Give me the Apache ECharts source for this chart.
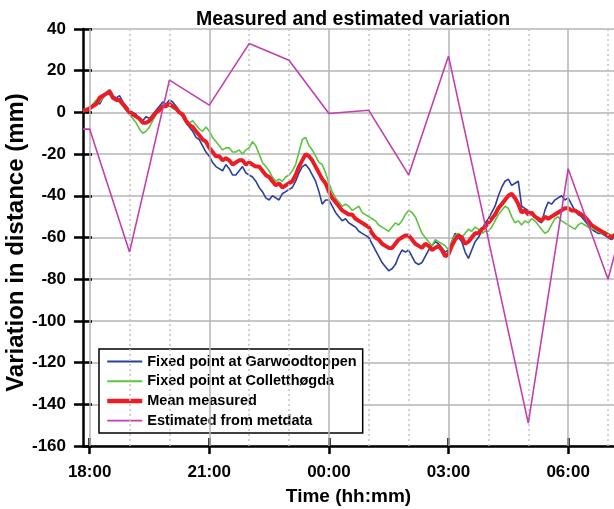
<!DOCTYPE html>
<html><head><meta charset="utf-8">
<script src="https://cdn.jsdelivr.net/npm/echarts@6/dist/echarts.min.js"></script>
<style>html,body{margin:0;padding:0;background:#fff}#c{width:614px;height:509px}</style>
</head><body><div id="c"></div>
<script>
// time samples: every 5 minutes starting 17:50 (hours past midnight of day 1; 24 = 00:00)
const startHour = 17 + 50 / 60;
const stepHour = 5 / 60;

const garwood = [0,1, 2,3, 5,4, 7,9, 11,8, 7,8, 5,3, 1,0, -1,-3, -4,-2, -3,-1, 1,3, 5,4, 6,5, 3,0, -2,-5, -7,-9, -12,-13, -16,-19, -21,-24, -26,-27, -28,-25, -27,-30, -30,-28, -26,-29, -30,-31, -33,-36, -38,-41, -42,-40, -41,-42, -39,-38, -37,-36, -33,-29, -26,-25, -27,-30, -33,-38, -44,-42, -42,-45, -48,-50, -52,-51, -53,-54, -55,-57, -58,-59, -60,-63, -66,-69, -72,-74, -76,-75, -73,-69, -66,-67, -66,-69, -72,-73, -72,-69, -66,-64, -62,-63, -65,-67, -66,-62, -58,-60, -62,-67, -70,-66, -62,-60, -57,-53, -51,-48, -45,-40, -36,-33, -32,-35, -34,-33, -45,-46, -47,-49, -50,-52, -53,-47, -43,-44, -42,-41, -40,-42, -41,-44, -47,-49, -50,-52, -54,-56, -57,-58, -58,-59, -60,-61, -60];

const collett = [1,2, 2,4, 6,5, 7,9, 11,8, 6,5, 3,1, -1,-3, -5,-8, -10,-9, -7,-4, -1,1, 2,4, 3,2, 1,0, -2,-4, -5,-4, -6,-8, -9,-7, -9,-12, -14,-16, -18,-17, -17,-19, -19,-18, -20,-18, -17,-14, -16,-20, -24,-26, -28,-31, -33,-32, -33,-31, -30,-28, -25,-19, -13,-12, -16,-18, -21,-24, -25,-29, -34,-38, -41,-43, -45,-44, -45,-47, -46,-45, -48,-49, -50,-51, -52,-54, -55,-56, -57,-55, -53,-54, -52,-49, -47,-48, -50,-54, -58,-60, -62,-64, -61,-62, -63,-64, -66,-62, -59,-58, -60,-58, -56,-57, -55,-56, -58,-57, -57,-55, -52,-49, -47,-45, -46,-50, -53,-52, -54,-52, -53,-51, -52,-54, -56,-58, -57,-54, -51,-50, -52,-53, -54,-55, -56,-54, -53,-54, -55,-56, -56,-57, -58,-57, -58,-59, -58];

const meanMeasured = [1,1, 2,3, 4,7, 8,9, 10,7, 6,6, 4,2, 0,-1, -2,-3, -5,-5, -4,-2, 0,1, 3,3, 4,3, 2,0, -1,-4, -6,-7, -9,-11, -13,-14, -17,-19, -21,-21, -23,-22, -23,-25, -24,-23, -23,-25, -24,-25, -26,-26, -28,-30, -31,-33, -35,-34, -36,-35, -34,-33, -30,-26, -23,-20, -21,-23, -26,-29, -32,-34, -38,-41, -43,-45, -47,-48, -49,-49, -51,-52, -53,-54, -55,-58, -60,-61, -63,-64, -65,-65, -63,-61, -60,-59, -59,-61, -63,-64, -65,-63, -64,-66, -65,-64, -66,-69, -68,-64, -61,-59, -60,-63, -62,-60, -58,-58, -56,-55, -53,-51, -49,-46, -44,-42, -40,-39, -41,-44, -48,-47, -49,-48, -50,-51, -52,-50, -51,-50, -49,-48, -47,-46, -46,-47, -47,-48, -49,-50, -52,-54, -55,-56, -57,-58, -59,-60, -59];

const metHours  = [17 + 50/60, 18, 19, 20, 21, 22, 23, 24, 25, 26, 27, 29, 30, 31, 32];
const metValues = [-8, -8, -67, 15.5, 3.5, 33, 25, -0.5, 1, -30, 27, -149, -27, -80, -8];

const labelHours = [18, 21, 24, 27, 30];
const hourLines = [18, 19, 20, 21, 22, 23, 24, 25, 26, 27, 28, 29, 30, 31];
const yMin = -160, yMax = 40, yStep = 20;
const xMin = 17 + 50/60, xMax = 31.15;

const legendNames = ['Fixed point at Garwoodtoppen', 'Fixed point at Colletthøgda', 'Mean measured', 'Estimated from metdata'];
const legendWidths = [2, 2, 4.5, 1.6];

function pairUp(vals) { return vals.map((v, i) => [startHour + i * stepHour, v]); }
function fmtHour(h) { const hh = ((Math.round(h) % 24) + 24) % 24; return (hh < 10 ? '0' : '') + hh + ':00'; }

const FONT = "'Liberation Sans', Arial, Helvetica, sans-serif";
const chart = echarts.init(document.getElementById('c'), null, { renderer: 'canvas' });

const gridMarkData = hourLines.map(h => ({
  xAxis: h,
  lineStyle: labelHours.includes(h)
    ? { type: 'solid', color: '#b4b4b4', width: 1.5 }
    : { type: [2, 3], color: '#c4c4c4', width: 1.5 }
}));

chart.setOption({
  animation: false,
  backgroundColor: '#fff',
  title: {
    text: 'Measured and estimated variation',
    left: 191, top: 5,
    textStyle: { fontFamily: FONT, fontWeight: 'bold', fontSize: 19.5, color: '#000' }
  },
  grid: { left: 83, top: 29, right: 0, bottom: 509 - 446, containLabel: false, outerBoundsMode: 'none' },
  legend: {
    orient: 'vertical', left: 99, top: 349,
    padding: [5, 6, 5, 6],
    itemWidth: 35, itemHeight: 14, itemGap: 4.7,
    backgroundColor: '#fff', borderColor: '#000', borderWidth: 1.5, borderRadius: 0,
    data: legendNames.map((n, i) => ({ name: n, lineStyle: { width: legendWidths[i] } })),
    itemStyle: { opacity: 0 },
    textStyle: { fontFamily: FONT, fontWeight: 'bold', fontSize: 14.5, color: '#000', lineHeight: 14 }
  },
  xAxis: [{
    type: 'value', min: xMin, max: xMax, position: 'bottom',
    name: 'Time (hh:mm)', nameLocation: 'middle', nameGap: 41, nameMoveOverlap: false,
    nameTextStyle: { fontFamily: FONT, fontWeight: 'bold', fontSize: 19, color: '#000' },
    axisLine: { show: true, onZero: false, lineStyle: { color: '#000', width: 2.5 } },
    axisTick: { show: true, inside: false, length: 8, customValues: labelHours, lineStyle: { color: '#000', width: 2.5 } },
    axisLabel: { show: true, margin: 18, customValues: labelHours, formatter: fmtHour,
      fontFamily: FONT, fontWeight: 'bold', fontSize: 17, color: '#000' },
    splitLine: { show: false }
  }, {
    type: 'value', min: xMin, max: xMax, position: 'bottom',
    axisLine: { show: false, onZero: false },
    axisTick: { show: true, inside: true, length: 8, customValues: labelHours, lineStyle: { color: '#000', width: 2.5 } },
    axisLabel: { show: false },
    splitLine: { show: false }
  }],
  yAxis: [{
    type: 'value', min: yMin, max: yMax, interval: yStep, position: 'left',
    name: 'Variation in distance (mm)', nameLocation: 'middle', nameGap: 55, nameRotate: 90, nameMoveOverlap: false,
    nameTextStyle: { fontFamily: FONT, fontWeight: 'bold', fontSize: 24, color: '#000', padding: [0, 10, 0, 0] },
    axisLine: { show: true, onZero: false, lineStyle: { color: '#000', width: 2.5 } },
    axisTick: { show: true, inside: false, length: 9, lineStyle: { color: '#000', width: 2.5 } },
    axisLabel: { margin: 17, fontFamily: FONT, fontWeight: 'bold', fontSize: 17, color: '#000' },
    splitLine: { show: true, lineStyle: { color: '#b4b4b4', width: 1.5 } }
  }, {
    type: 'value', min: yMin, max: yMax, interval: yStep, position: 'left', offset: 0,
    axisLine: { show: false, onZero: false },
    axisTick: { show: true, inside: true, length: 9, lineStyle: { color: '#000', width: 2.5 } },
    axisLabel: { show: false },
    splitLine: { show: false }
  }],
  series: [
    { type: 'line', name: '_grid', data: [], z: 1, silent: true,
      markLine: { silent: true, symbol: ['none', 'none'], label: { show: false }, animation: false, data: gridMarkData } },
    { type: 'line', name: legendNames[0], data: pairUp(garwood), showSymbol: false, symbol: 'none', z: 3,
      lineStyle: { color: '#2b3f9e', width: 1.6 }, itemStyle: { color: '#2b3f9e' } },
    { type: 'line', name: legendNames[1], data: pairUp(collett), showSymbol: false, symbol: 'none', z: 3,
      lineStyle: { color: '#5ec43f', width: 1.6 }, itemStyle: { color: '#5ec43f' } },
    { type: 'line', name: legendNames[2], data: pairUp(meanMeasured), showSymbol: false, symbol: 'none', z: 4,
      lineStyle: { color: '#ec1c24', width: 4 }, itemStyle: { color: '#ec1c24' } },
    { type: 'line', name: legendNames[3], data: metHours.map((h, i) => [h, metValues[i]]), showSymbol: false, symbol: 'none', z: 5,
      lineStyle: { color: '#c23fb0', width: 1.6 }, itemStyle: { color: '#c23fb0' } }
  ]
});
</script>
</body></html>
